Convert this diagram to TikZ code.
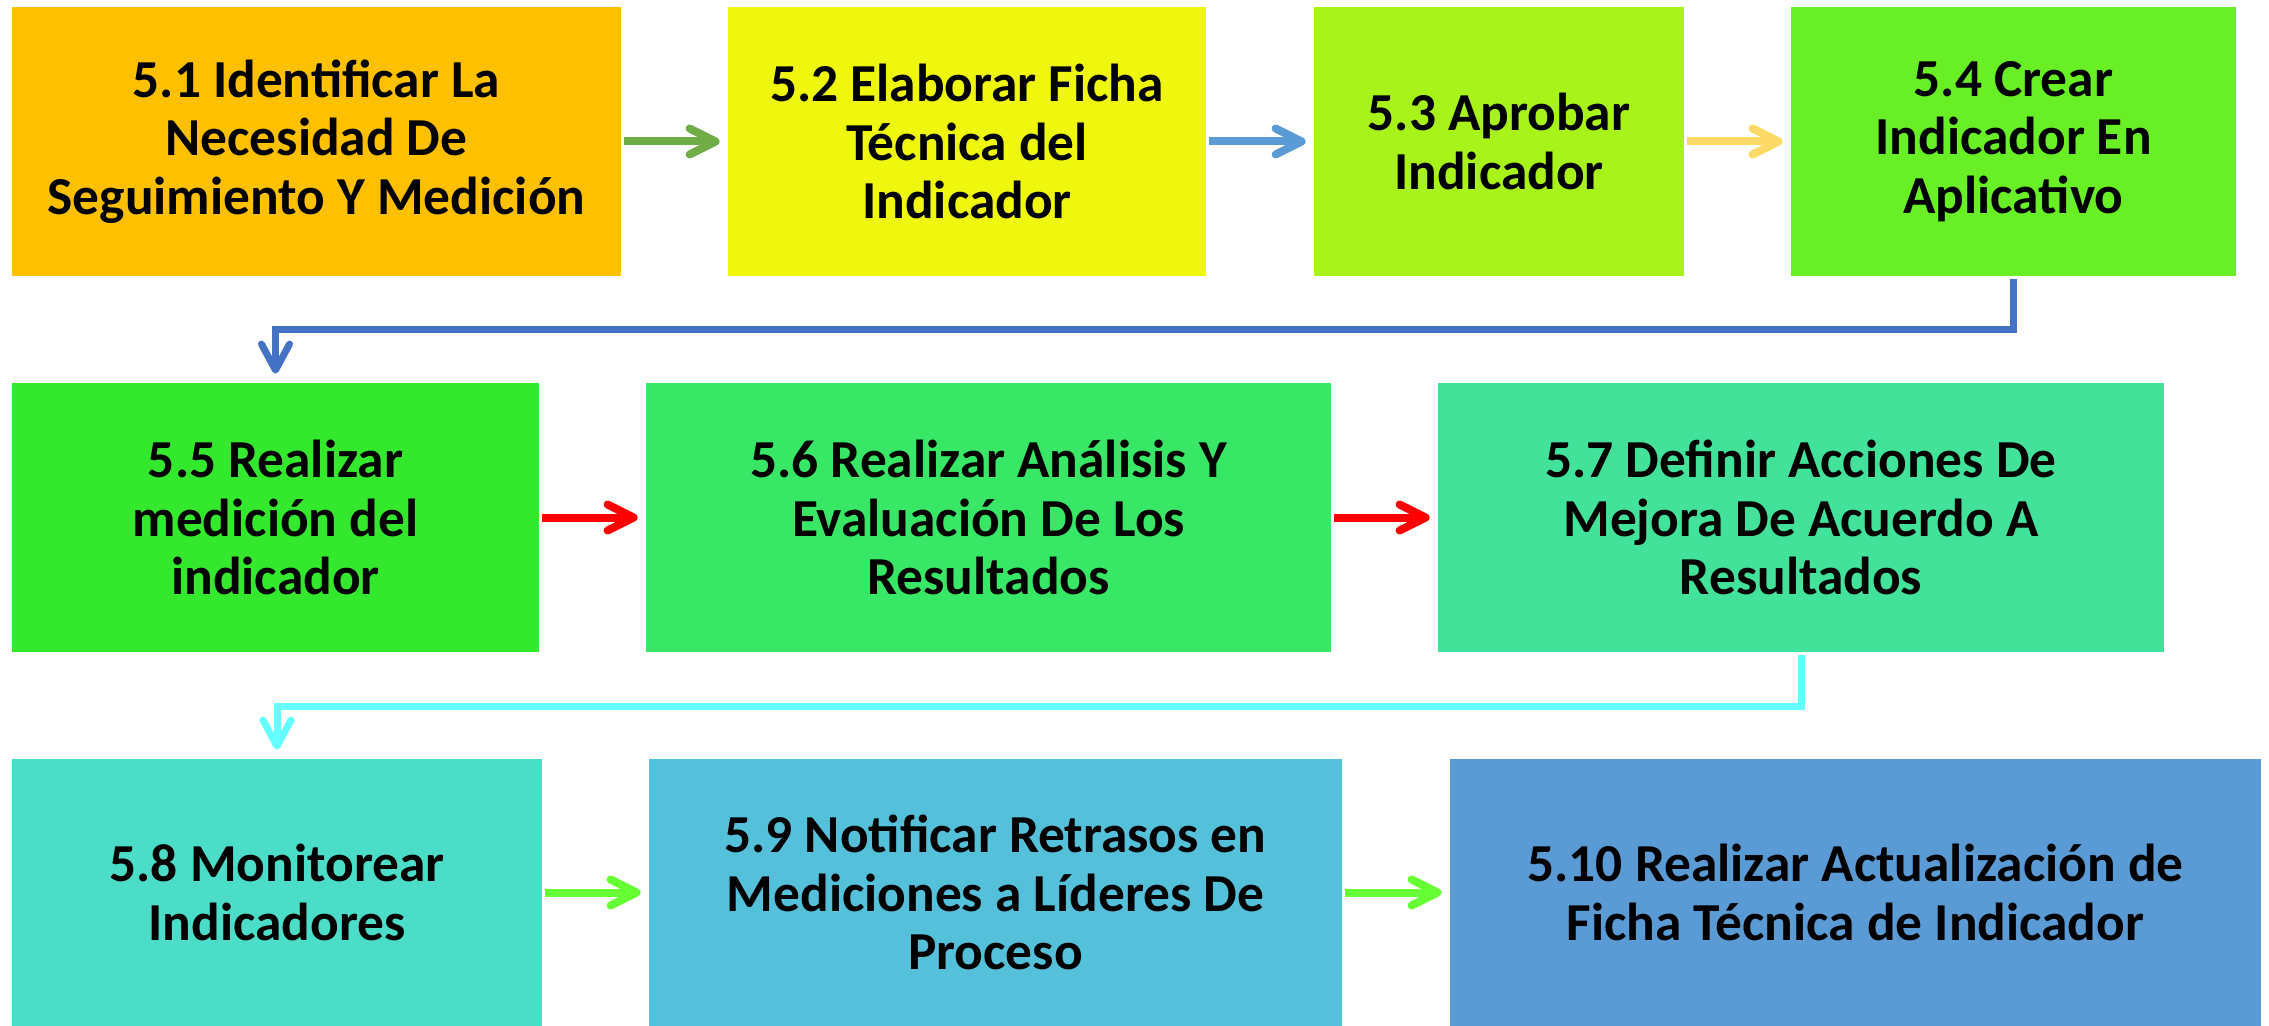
\documentclass[tikz,border=0pt]{standalone}
\usepackage{fontspec}
\setmainfont{Carlito}
\usetikzlibrary{arrows.meta}
\definecolor{c1}{HTML}{FFC000}
\definecolor{c2}{HTML}{EEF70D}
\definecolor{c3}{HTML}{A7F31A}
\definecolor{c4}{HTML}{69EF25}
\definecolor{c5}{HTML}{34E82E}
\definecolor{c6}{HTML}{38E766}
\definecolor{c7}{HTML}{42E29B}
\definecolor{c8}{HTML}{4CDDC8}
\definecolor{c9}{HTML}{54C0DA}
\definecolor{c10}{HTML}{5B9BD5}
\definecolor{agreen}{HTML}{70AD47}
\definecolor{ablue}{HTML}{5B9BD5}
\definecolor{agold}{HTML}{FFD966}
\definecolor{adblue}{HTML}{4472C4}
\definecolor{ared}{HTML}{FF0000}
\definecolor{acyan}{HTML}{66FFFF}
\definecolor{alime}{HTML}{66FF33}
\begin{document}
\begin{tikzpicture}[x=0.5pt,y=-0.5pt,
  stepbox/.style={fill=#1, draw=none, inner sep=0pt, align=center,
    font=\fontsize{26.7pt}{29.3pt}\selectfont\bfseries, text=black},
  flow/.style={draw=#1, line width=4pt,
    -{Straight Barb[length=13pt,width=13pt,round]},
    shorten <=1.5pt, shorten >=4pt},
  link/.style={draw=#1, line width=3.5pt,
    -{Straight Barb[length=13pt,width=14pt,round]},
    shorten <=1.5pt, shorten >=4.5pt}]
\useasboundingbox (0,0) rectangle (2269,1026);
% row 1
\node[stepbox=c1, minimum width=304.5pt, minimum height=134.5pt] (n1) at (316.5,141.5)
  {5.1 Identificar La\\Necesidad De\\Seguimiento Y Medición};
\node[stepbox=c2, minimum width=239pt, minimum height=134.5pt] (n2) at (967,141.5)
  {5.2 Elaborar Ficha\\Técnica del\\Indicador};
\node[stepbox=c3, minimum width=185pt, minimum height=134.5pt] (n3) at (1499,141.5)
  {5.3 Aprobar\\Indicador};
\node[stepbox=c4, minimum width=222.5pt, minimum height=134.5pt] (n4) at (2013.5,141.5)
  {5.4 Crear\\Indicador En\\Aplicativo};
% row 2
\node[stepbox=c5, minimum width=263.5pt, minimum height=134.5pt] (n5) at (275.5,517.5)
  {5.5 Realizar\\medición del\\indicador};
\node[stepbox=c6, minimum width=342.5pt, minimum height=134.5pt] (n6) at (988.5,517.5)
  {5.6 Realizar Análisis Y\\Evaluación De Los\\Resultados};
\node[stepbox=c7, minimum width=363pt, minimum height=134.5pt] (n7) at (1801,517.5)
  {5.7 Definir Acciones De\\Mejora De Acuerdo A\\Resultados};
% row 3
\node[stepbox=c8, minimum width=265pt, minimum height=133.5pt] (n8) at (277,892.5)
  {5.8 Monitorear\\Indicadores};
\node[stepbox=c9, minimum width=346.5pt, minimum height=133.5pt] (n9) at (995.5,892.5)
  {5.9 Notificar Retrasos en\\Mediciones a Líderes De\\Proceso};
\node[stepbox=c10, minimum width=405.5pt, minimum height=133.5pt] (n10) at (1855.5,892.5)
  {5.10 Realizar Actualización de\\Ficha Técnica de Indicador};
% arrows
\draw[flow=agreen] (n1) -- (n2);
\draw[flow=ablue] (n2) -- (n3);
\draw[flow=agold] (n3) -- (n4);
\draw[flow=ared] (n5) -- (n6);
\draw[flow=ared] (n6) -- (n7);
\draw[flow=alime] (n8) -- (n9);
\draw[flow=alime] (n9) -- (n10);
\draw[link=adblue] (n4.south) -- ++(0,53.5) -| (n5.north);
\draw[link=acyan] (n7.south) -- ++(0,54) -| (n8.north);
\end{tikzpicture}
\end{document}
